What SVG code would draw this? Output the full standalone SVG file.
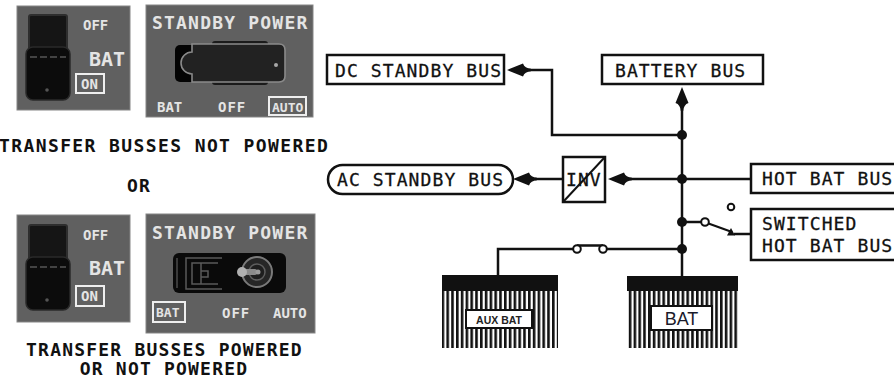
<svg xmlns="http://www.w3.org/2000/svg" width="894" height="381" viewBox="0 0 894 381">
  <style>
    .panel { fill: #606060; stroke: #858585; stroke-width: 1; }
    .plab { font-family: "DejaVu Sans Mono", "Liberation Mono", monospace; font-weight: bold; fill: #e4e4e4; }
    .cap { font-family: "DejaVu Sans Mono", "Liberation Mono", monospace; font-weight: bold; font-size: 18px; letter-spacing: 1.2px; fill: #111; }
    .lbl { font-family: "DejaVu Sans Mono", "Liberation Mono", monospace; font-size: 18px; letter-spacing: 1.1px; fill: #111; stroke: #111; stroke-width: 0.3px; }
    .box { fill: #fff; stroke: #111; stroke-width: 2.5; }
    .wire { fill: none; stroke: #111; stroke-width: 2.5; }
    .dot { fill: #111; }
    .hl { fill: none; stroke: #eeeeee; stroke-width: 2; }
  </style>
  <defs>
    <!-- arrowhead with a short tapered tail, tip at origin pointing in -x -->
    <path id="dart" d="M0,0 L16,-6.5 C17,-3.2 20,-1.5 24,-1.2 L24,1.2 C20,1.5 17,3.2 16,6.5 Z" fill="#111"/>
    <pattern id="hatch" width="4.8" height="10" patternUnits="userSpaceOnUse">
      <rect x="0" y="0" width="4.8" height="10" fill="#fff"/>
      <rect x="0" y="0" width="2.6" height="10" fill="#111"/>
    </pattern>
    <!-- battery toggle lever -->
    <g id="toggle">
      <rect x="29" y="15" width="38" height="36" rx="2" fill="#151515" stroke="#2e2e2e" stroke-width="2"/>
      <rect x="26" y="47" width="44" height="53" rx="7" fill="#0c0c0c" stroke="#2a2a2a" stroke-width="1.5"/>
      <line x1="30" y1="57" x2="66" y2="57" stroke="#555" stroke-width="1.5" stroke-dasharray="7 3"/>
      <circle cx="47" cy="90" r="1.8" fill="#555"/>
    </g>
  </defs>

  <!-- Top pair of switch panels -->
  <g id="bat-switch-off">
    <rect class="panel" x="17" y="6" width="113" height="104"/>
    <use href="#toggle"/>
    <text class="plab" x="83" y="30" font-size="14">OFF</text>
    <text class="plab" x="89" y="65.5" font-size="20">BAT</text>
    <rect class="hl" x="76" y="74" width="28" height="19"/>
    <text class="plab" x="81" y="88.5" font-size="14">ON</text>
  </g>

  <g id="standby-auto">
    <rect class="panel" x="146" y="5" width="167" height="112"/>
    <text class="plab" x="152" y="28.5" font-size="18" letter-spacing="1.2">STANDBY POWER</text>
    <rect x="212" y="41" width="56" height="44" rx="3" fill="#1b1b1b"/>
    <rect x="175" y="45" width="26" height="37" rx="5" fill="#040404"/>
    <path d="M192,44 H279 Q285,44 285,50 V76 Q285,82 279,82 H192 V74 A11,11 0 0 1 192,52 Z" fill="#222" stroke="#8a8a8a" stroke-width="1.6"/>
    <circle cx="276" cy="65" r="2" fill="#a8a8a8"/>
    <text class="plab" x="157" y="112" font-size="14">BAT</text>
    <text class="plab" x="218" y="112" font-size="14" letter-spacing="1">OFF</text>
    <rect class="hl" x="269" y="97" width="37" height="18"/>
    <text class="plab" x="272" y="111.5" font-size="13">AUTO</text>
  </g>

  <text id="cap-not-powered" class="cap" x="-1" y="151.5" textLength="330" lengthAdjust="spacing">TRANSFER BUSSES NOT POWERED</text>
  <text id="cap-or" class="cap" x="139" y="191.5" text-anchor="middle">OR</text>

  <!-- Bottom pair of switch panels -->
  <g id="bat-switch-on">
    <rect class="panel" x="17" y="215" width="113" height="107"/>
    <use href="#toggle" y="210"/>
    <text class="plab" x="83" y="240" font-size="14">OFF</text>
    <text class="plab" x="89" y="274.5" font-size="20">BAT</text>
    <rect class="hl" x="76" y="286" width="28" height="20"/>
    <text class="plab" x="81" y="301" font-size="14">ON</text>
  </g>

  <g id="standby-bat">
    <rect class="panel" x="146" y="214" width="169" height="119"/>
    <text class="plab" x="152" y="238.5" font-size="18" letter-spacing="1.2">STANDBY POWER</text>
    <rect x="173" y="253" width="113" height="40" rx="6" fill="#0a0a0a"/>
    <line x1="177" y1="258" x2="177" y2="288" stroke="#3a3a3a" stroke-width="2"/>
    <path d="M222,258 H186 V289 H222 M218,263 H192 V284 H218 M201,263 V284 M201,271 H208 V277 H201" fill="none" stroke="#5a5a5a" stroke-width="1.5"/>
    <circle cx="257" cy="272" r="15" fill="#262626" stroke="#7a7a7a" stroke-width="2"/>
    <circle cx="257" cy="272" r="8" fill="#1e1e1e" stroke="#5e5e5e" stroke-width="1.5"/>
    <rect x="241" y="269" width="16" height="6" rx="2" fill="#8a8a8a"/>
    <circle cx="242" cy="272" r="5" fill="#b0b0b0"/>
    <circle cx="258" cy="272" r="2.5" fill="#9a9a9a"/>
    <rect class="hl" x="153" y="302" width="32" height="20"/>
    <text class="plab" x="156" y="317" font-size="13">BAT</text>
    <text class="plab" x="222" y="318" font-size="14" letter-spacing="1">OFF</text>
    <text class="plab" x="273" y="318" font-size="14">AUTO</text>
  </g>

  <text id="cap-powered-1" class="cap" x="164.5" y="355.5" text-anchor="middle">TRANSFER BUSSES POWERED</text>
  <text id="cap-powered-2" class="cap" x="164" y="375" text-anchor="middle">OR NOT POWERED</text>

  <!-- Bus nodes -->
  <g id="dc-standby-bus">
    <rect class="box" x="327" y="55" width="177" height="29"/>
    <text class="lbl" x="335" y="76.5">DC STANDBY BUS</text>
  </g>
  <g id="battery-bus">
    <rect class="box" x="602" y="55" width="161" height="29"/>
    <text class="lbl" x="615" y="76.5">BATTERY BUS</text>
  </g>
  <g id="ac-standby-bus">
    <rect class="box" x="328" y="165" width="185" height="29" rx="14.5"/>
    <text class="lbl" x="337" y="186">AC STANDBY BUS</text>
  </g>
  <g id="inverter">
    <rect class="box" x="563" y="157" width="42" height="45"/>
    <line x1="563" y1="202" x2="605" y2="157" stroke="#111" stroke-width="2"/>
    <text class="lbl" x="566" y="185.5" letter-spacing="0.6">INV</text>
  </g>
  <g id="hot-bat-bus">
    <rect class="box" x="751" y="164" width="150" height="29"/>
    <text class="lbl" x="762" y="185">HOT BAT BUS</text>
  </g>
  <g id="switched-hot-bat-bus">
    <rect class="box" x="751" y="209" width="150" height="51"/>
    <text class="lbl" x="762" y="229.5">SWITCHED</text>
    <text class="lbl" x="762" y="251.5">HOT BAT BUS</text>
  </g>
  <g id="aux-bat">
    <rect x="442" y="275" width="116" height="73" fill="url(#hatch)"/>
    <rect x="442" y="275" width="116" height="16" fill="#111"/>
    <rect x="466" y="310" width="66" height="18" fill="#fff" stroke="#111" stroke-width="2"/>
    <text x="499" y="323.5" text-anchor="middle" font-family="Liberation Sans, Arial, sans-serif" font-weight="bold" font-size="10.5" fill="#222">AUX BAT</text>
  </g>
  <g id="bat">
    <rect x="627" y="276" width="111" height="72" fill="url(#hatch)"/>
    <rect x="627" y="276" width="111" height="15" fill="#111"/>
    <rect x="651" y="306" width="61" height="24" fill="#fff" stroke="#111" stroke-width="2"/>
    <text x="681.5" y="325" text-anchor="middle" font-family="Liberation Sans, Arial, sans-serif" font-size="18" fill="#1a1a2a">BAT</text>
  </g>

  <!-- Connectors -->
  <g id="connectors">
    <path class="wire" d="M682,108 V276"/>
    <use href="#dart" transform="translate(682,87) rotate(90)"/>
    <path class="wire" d="M682,135 H552 V70 H528"/>
    <use href="#dart" transform="translate(507,70)"/>
    <path class="wire" d="M751,179 H628"/>
    <use href="#dart" transform="translate(608,179)"/>
    <path class="wire" d="M563,179 H535"/>
    <use href="#dart" transform="translate(513,179)"/>
    <!-- switch to switched hot battery bus -->
    <path class="wire" d="M682,222 H701"/>
    <circle cx="705" cy="222" r="3.8" fill="#fff" stroke="#111" stroke-width="2"/>
    <line x1="708.5" y1="223.5" x2="732" y2="232" stroke="#111" stroke-width="2.2"/>
    <path d="M727,235.5 L731,228 L735,235.5 Z" fill="#111"/>
    <path class="wire" d="M734,234 H751"/>
    <circle cx="731" cy="207" r="3.3" fill="#fff" stroke="#111" stroke-width="2"/>
    <!-- aux battery feed through fuse -->
    <path class="wire" d="M682,249 H607 M573,249 H498 V275 M577,245.5 H603"/>
    <circle cx="577" cy="249" r="3.8" fill="#fff" stroke="#111" stroke-width="2"/>
    <circle cx="603" cy="249" r="3.8" fill="#fff" stroke="#111" stroke-width="2"/>
    <circle class="dot" cx="682" cy="135" r="5"/>
    <circle class="dot" cx="682" cy="179" r="5"/>
    <circle class="dot" cx="682" cy="222" r="5"/>
    <circle class="dot" cx="682" cy="249" r="5"/>
  </g>
</svg>
